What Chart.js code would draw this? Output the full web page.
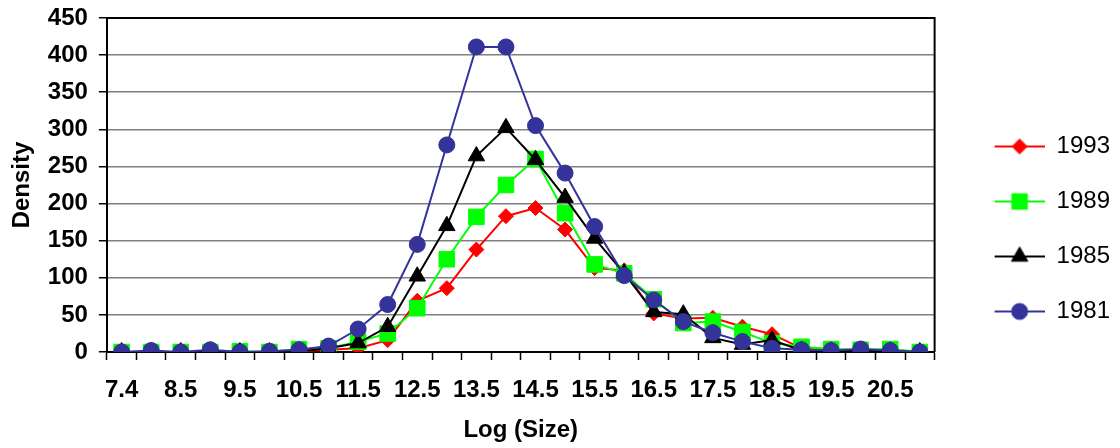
<!DOCTYPE html>
<html>
<head>
<meta charset="utf-8">
<script src="https://cdn.jsdelivr.net/npm/chart.js@4.4.0/dist/chart.umd.min.js"></script>
<style>
  html, body { margin: 0; padding: 0; background: #fff; }
</style>
</head>
<body>
<canvas id="chart" width="1120" height="448"></canvas>
<script>
const sizes = ['7.4', '8', '8.5', '9', '9.5', '10', '10.5', '11', '11.5', '12', '12.5', '13', '13.5', '14',
               '14.5', '15', '15.5', '16', '16.5', '17', '17.5', '18', '18.5', '19', '19.5', '20', '20.5', '21'];
const density1993 = [0, 0, 0, 0, 0, 0, 1, 3, 5, 16, 69, 86, 138, 183, 194, 165, 113, 110, 52, 45, 46, 34, 24, 5, 2, 2, 2, 1];
const density1989 = [0, 0, 0, 0, 1, 0, 4, 5, 14, 25, 59, 125, 182, 225, 260, 187, 118, 106, 71, 39, 41, 27, 12, 7, 4, 3, 4, 0];
const density1985 = [0, 0, 0, 1, 0, 0, 1, 5, 12, 34, 102, 170, 264, 302, 259, 208, 153, 106, 54, 51, 19, 10, 16, 2, 1, 2, 1, 0];
const density1981 = [0, 2, 0, 3, 0, 1, 3, 8, 31, 64, 145, 279, 411, 411, 305, 241, 169, 103, 70, 41, 26, 14, 5, 3, 2, 4, 2, 0];
const yTicks = [0, 50, 100, 150, 200, 250, 300, 350, 400, 450];

const FONT = "'Liberation Sans', Arial, sans-serif";
const ICON_W = 79, ICON_OFF = 29;

function series(label, data, color, style, radius, order) {
    return {
        label: label,
        data: data,
        borderColor: color,
        backgroundColor: color,
        borderWidth: 2,
        pointStyle: style,
        pointRadius: radius,
        pointHoverRadius: radius,
        pointBackgroundColor: color,
        pointBorderColor: color,
        pointBorderWidth: 1,
        tension: 0,
        order: order
    };
}

// legend icon: a short line with the marker in the middle
function legendIcon(ds) {
    const c = document.createElement('canvas');
    c.width = ICON_W;
    c.height = 26;
    const g = c.getContext('2d');
    g.strokeStyle = ds.borderColor;
    g.lineWidth = 2;
    g.beginPath();
    g.moveTo(ICON_OFF, 13);
    g.lineTo(ICON_W, 13);
    g.stroke();
    g.fillStyle = ds.pointBackgroundColor;
    g.lineWidth = 1;
    Chart.helpers.drawPoint(g, { pointStyle: ds.pointStyle, radius: ds.pointRadius, borderWidth: 1, rotation: 0 },
        ICON_OFF + (ICON_W - ICON_OFF) / 2, 13);
    return c;
}

// top and right frame of the plot area
const frame = {
    id: 'frame',
    beforeDatasetsDraw(chart) {
        const { ctx, chartArea: a } = chart;
        ctx.save();
        ctx.strokeStyle = '#000';
        ctx.lineWidth = 2;
        ctx.beginPath();
        ctx.moveTo(a.left, a.top);
        ctx.lineTo(a.right, a.top);
        ctx.lineTo(a.right, a.bottom);
        ctx.stroke();
        ctx.restore();
    }
};

const chart = new Chart(document.getElementById('chart'), {
    type: 'line',
    data: {
        labels: sizes,
        datasets: [
            series('1993', density1993, '#ff0000', 'rectRot', 7.5, 4),
            series('1989', density1989, '#00ff00', 'rect', 11, 3),
            series('1985', density1985, '#000000', 'triangle', 9.5, 2),
            series('1981', density1981, '#333399', 'circle', 8, 1)
        ]
    },
    options: {
        responsive: false,
        animation: false,
        events: [],
        layout: { padding: { top: 18, right: 0, bottom: 8, left: 0 } },
        plugins: {
            tooltip: { enabled: false },
            legend: {
                position: 'right',
                labels: {
                    usePointStyle: true,
                    pointStyleWidth: ICON_W,
                    padding: 31,
                    color: '#000',
                    font: { family: FONT, size: 24 },
                    generateLabels(ch) {
                        return ch.data.datasets.map((ds, i) => ({
                            text: ds.label,
                            pointStyle: legendIcon(ds),
                            fillStyle: ds.borderColor,
                            strokeStyle: ds.borderColor,
                            lineWidth: 0,
                            hidden: false,
                            datasetIndex: i
                        }));
                    }
                }
            }
        },
        scales: {
            x: {
                offset: true,
                afterFit: (scale) => { scale.height = 88; },
                grid: { display: true, drawOnChartArea: false, offset: true, tickLength: 8, tickColor: '#000', tickWidth: 1.5 },
                border: { color: '#000', width: 2 },
                ticks: {
                    autoSkip: false,
                    maxRotation: 0,
                    minRotation: 0,
                    padding: 16,
                    color: '#000',
                    font: { family: FONT, size: 24, weight: 'bold' },
                    callback: (v, i) => (i % 2 === 0 ? sizes[i] : '')
                },
                title: {
                    display: true,
                    text: 'Log (Size)',
                    color: '#000',
                    padding: { top: 1, bottom: -5 },
                    font: { family: FONT, size: 24, weight: 'bold' }
                }
            },
            y: {
                min: yTicks[0],
                max: yTicks[yTicks.length - 1],
                afterBuildTicks: (scale) => { scale.ticks = yTicks.map(v => ({ value: v })); },
                afterFit: (scale) => { scale.paddingTop = 0; scale.paddingBottom = 0; },
                grid: { color: '#808080', lineWidth: 1.5, tickLength: 8, tickColor: '#000', tickWidth: 1.5 },
                border: { color: '#000', width: 2 },
                ticks: {
                    padding: 11,
                    color: '#000',
                    font: { family: FONT, size: 24, weight: 'bold' }
                },
                title: {
                    display: true,
                    text: 'Density',
                    color: '#000',
                    padding: { top: 8, bottom: 0 },
                    font: { family: FONT, size: 24, weight: 'bold' }
                }
            }
        }
    },
    plugins: [frame]
});
</script>
</body>
</html>
